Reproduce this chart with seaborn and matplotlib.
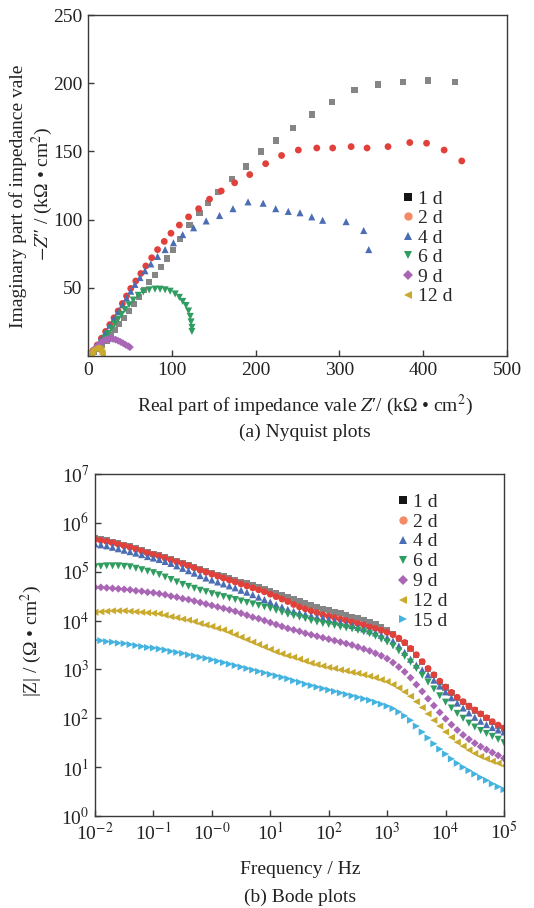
import matplotlib
matplotlib.use("Agg")
import matplotlib.pyplot as plt
from matplotlib.lines import Line2D
import seaborn as sns
import numpy as np

# ---------------- Nyquist data (kOhm cm2) ----------------
nyq_labels = ["1 d", "2 d", "4 d", "6 d", "9 d", "12 d"]

re_1d = [7, 12, 17, 22, 27, 32, 37, 43, 49, 55, 61, 67, 73, 80, 87, 94, 101, 110, 121, 133,
         143, 155, 172, 189, 206, 224, 245, 267, 291, 318, 346, 376, 406, 438]
im_1d = [3, 5, 8, 11, 15, 19, 23.5, 28, 33, 38, 43, 48.5, 54, 59.5, 65.5, 71.5, 77.5, 86, 96, 105,
         112, 120, 129.5, 139, 150, 158, 167, 177, 186, 195, 199, 201, 202, 201]

re_2d = [6, 11, 16, 21, 26, 31, 36, 41, 46, 51, 57, 63, 69, 76, 83, 91, 99, 109, 120, 132,
         145, 159, 175, 193, 212, 231, 251, 273, 292, 314, 333, 358, 384, 404, 425, 446]
im_2d = [4, 8, 13, 18, 23, 28, 33, 38.5, 44, 49.5, 55, 60.5, 66, 72, 78, 84, 90, 96, 102, 108,
         115, 121, 127, 133, 141, 147, 151, 152.5, 152.5, 153.5, 152.5, 153.5, 156.5, 156, 151, 143]

re_4d = [6, 11, 16, 21, 26, 31, 36, 41, 46, 51, 56, 62, 68, 75, 83, 92, 102, 113, 126, 141,
         157, 173, 191, 209, 224, 239, 253, 267, 280, 308, 329, 335]
im_4d = [4, 8, 12.5, 17.5, 22.5, 27.5, 32.5, 37.5, 42.5, 47.5, 52.5, 57.5, 62.5, 67.5, 73, 78, 83, 89, 94, 99,
         103, 108, 113, 112, 108, 106, 105, 102, 99.5, 98.5, 92, 78]

re_6d = [8, 12, 16, 20, 24, 28, 32, 36, 40, 44, 49, 54, 60, 66, 73, 80, 86, 92, 98, 104,
         109, 113, 117, 120, 122, 123, 124, 124]
im_6d = [3, 6, 9.5, 13, 16.5, 20, 23.5, 27, 30.5, 34, 37.5, 41, 44.5, 47, 48.5, 49, 49, 48.5, 47.5, 45.5,
         43, 40, 37, 33, 29, 25, 21, 18]

re_9d = [6, 9, 12, 15, 18, 21, 24, 27, 30, 33, 36, 39, 42, 45, 48, 50]
im_9d = [4, 6, 8, 9.5, 11, 12, 12.5, 12.7, 12.5, 12, 11.2, 10.3, 9.3, 8.2, 7.2, 6.5]

re_12d = [4, 5, 6, 8, 10, 12, 14, 15.5, 16.5, 17]
im_12d = [1, 3, 4.5, 5.5, 6, 5.8, 5, 3.8, 2.5, 1.2]

# ---------------- Bode data: log10 f (Hz) and log10 |Z| (Ohm cm2) ----------------
bode_labels = ["1 d", "2 d", "4 d", "6 d", "9 d", "12 d", "15 d"]

lg_freq = [-2.0, -1.9, -1.8, -1.7, -1.6, -1.5, -1.4, -1.3, -1.2, -1.1,
           -1.0, -0.9, -0.8, -0.7, -0.6, -0.5, -0.4, -0.3, -0.2, -0.1,
           0.0, 0.1, 0.2, 0.3, 0.4, 0.5, 0.6, 0.7, 0.8, 0.9,
           1.0, 1.1, 1.2, 1.3, 1.4, 1.5, 1.6, 1.7, 1.8, 1.9,
           2.0, 2.1, 2.2, 2.3, 2.4, 2.5, 2.6, 2.7, 2.8, 2.9,
           3.0, 3.1, 3.2, 3.3, 3.4, 3.5, 3.6, 3.7, 3.8, 3.9,
           4.0, 4.1, 4.2, 4.3, 4.4, 4.5, 4.6, 4.7, 4.8, 4.9, 5.0]

lgz_1d = [5.69, 5.67, 5.64, 5.61, 5.58, 5.55, 5.52, 5.48, 5.44, 5.40,
          5.37, 5.34, 5.30, 5.26, 5.22, 5.18, 5.14, 5.10, 5.06, 5.02,
          4.98, 4.94, 4.90, 4.87, 4.83, 4.79, 4.76, 4.72, 4.69, 4.65,
          4.61, 4.57, 4.53, 4.49, 4.44, 4.40, 4.36, 4.32, 4.28, 4.24,
          4.21, 4.18, 4.15, 4.12, 4.08, 4.05, 4.01, 3.97, 3.92, 3.87,
          3.80, 3.72, 3.63, 3.54, 3.42, 3.29, 3.15, 3.01, 2.88, 2.75,
          2.63, 2.52, 2.42, 2.33, 2.24, 2.16, 2.08, 2.01, 1.92, 1.85, 1.79]
lgz_2d = [5.66, 5.64, 5.62, 5.59, 5.56, 5.53, 5.50, 5.46, 5.42, 5.38,
          5.35, 5.32, 5.28, 5.24, 5.20, 5.16, 5.12, 5.08, 5.03, 4.99,
          4.95, 4.91, 4.87, 4.83, 4.79, 4.75, 4.71, 4.67, 4.63, 4.59,
          4.54, 4.49, 4.44, 4.39, 4.33, 4.28, 4.24, 4.20, 4.16, 4.12,
          4.09, 4.06, 4.03, 4.00, 3.97, 3.94, 3.91, 3.87, 3.84, 3.80,
          3.76, 3.71, 3.64, 3.55, 3.43, 3.30, 3.16, 3.02, 2.89, 2.76,
          2.64, 2.53, 2.43, 2.34, 2.25, 2.17, 2.09, 2.01, 1.93, 1.86, 1.80]
lgz_4d = [5.57, 5.55, 5.53, 5.50, 5.47, 5.44, 5.41, 5.38, 5.35, 5.31,
          5.28, 5.25, 5.21, 5.17, 5.12, 5.07, 5.02, 4.97, 4.92, 4.87,
          4.83, 4.79, 4.75, 4.71, 4.67, 4.62, 4.58, 4.53, 4.48, 4.43,
          4.38, 4.33, 4.28, 4.23, 4.19, 4.16, 4.13, 4.10, 4.07, 4.05,
          4.02, 3.99, 3.96, 3.93, 3.90, 3.86, 3.83, 3.79, 3.75, 3.70,
          3.65, 3.58, 3.48, 3.35, 3.21, 3.09, 2.99, 2.89, 2.78, 2.66,
          2.54, 2.42, 2.31, 2.21, 2.11, 2.02, 1.94, 1.87, 1.81, 1.76, 1.72]
lgz_6d = [5.10, 5.11, 5.12, 5.12, 5.12, 5.11, 5.10, 5.07, 5.04, 5.01,
          4.98, 4.94, 4.89, 4.84, 4.79, 4.74, 4.70, 4.66, 4.62, 4.59,
          4.55, 4.52, 4.49, 4.46, 4.43, 4.40, 4.37, 4.34, 4.31, 4.28,
          4.25, 4.21, 4.17, 4.13, 4.10, 4.07, 4.04, 4.00, 3.97, 3.94,
          3.92, 3.90, 3.87, 3.85, 3.83, 3.80, 3.77, 3.73, 3.68, 3.62,
          3.56, 3.48, 3.38, 3.27, 3.15, 3.02, 2.88, 2.74, 2.60, 2.46,
          2.33, 2.21, 2.10, 2.00, 1.90, 1.82, 1.75, 1.69, 1.63, 1.57, 1.50]
lgz_9d = [4.68, 4.68, 4.67, 4.66, 4.65, 4.64, 4.63, 4.61, 4.60, 4.58,
          4.57, 4.55, 4.53, 4.50, 4.48, 4.45, 4.43, 4.40, 4.37, 4.34,
          4.31, 4.28, 4.25, 4.22, 4.19, 4.15, 4.11, 4.07, 4.04, 4.00,
          3.96, 3.92, 3.88, 3.84, 3.81, 3.78, 3.74, 3.71, 3.68, 3.65,
          3.62, 3.59, 3.56, 3.53, 3.50, 3.46, 3.42, 3.38, 3.33, 3.28,
          3.22, 3.14, 3.05, 2.95, 2.83, 2.69, 2.55, 2.40, 2.26, 2.12,
          1.99, 1.87, 1.76, 1.66, 1.57, 1.49, 1.42, 1.36, 1.30, 1.24, 1.18]
lgz_12d = [4.17, 4.18, 4.19, 4.20, 4.20, 4.20, 4.19, 4.18, 4.17, 4.16,
           4.15, 4.14, 4.11, 4.08, 4.06, 4.03, 4.01, 3.98, 3.94, 3.91,
           3.88, 3.84, 3.81, 3.76, 3.71, 3.66, 3.61, 3.56, 3.51, 3.46,
           3.41, 3.36, 3.32, 3.28, 3.25, 3.21, 3.17, 3.13, 3.10, 3.07,
           3.04, 3.02, 2.99, 2.97, 2.94, 2.92, 2.89, 2.86, 2.83, 2.79,
           2.75, 2.69, 2.62, 2.54, 2.45, 2.34, 2.22, 2.09, 1.96, 1.84,
           1.72, 1.61, 1.51, 1.43, 1.35, 1.28, 1.22, 1.17, 1.12, 1.08, 1.03]
lgz_15d = [3.60, 3.59, 3.57, 3.56, 3.54, 3.53, 3.51, 3.49, 3.47, 3.45,
           3.44, 3.42, 3.40, 3.37, 3.35, 3.33, 3.30, 3.28, 3.25, 3.23,
           3.20, 3.17, 3.14, 3.11, 3.08, 3.05, 3.02, 2.99, 2.96, 2.93,
           2.90, 2.87, 2.84, 2.81, 2.77, 2.74, 2.70, 2.67, 2.64, 2.61,
           2.58, 2.55, 2.52, 2.49, 2.46, 2.43, 2.40, 2.37, 2.33, 2.29,
           2.25, 2.20, 2.13, 2.05, 1.96, 1.84, 1.72, 1.60, 1.48, 1.37,
           1.27, 1.17, 1.08, 1.00, 0.93, 0.86, 0.79, 0.73, 0.66, 0.60, 0.54]

x_tick_exp = [-2, -1, 0, 1, 2, 3, 4, 5]
x_tick_text = ["10$^{-2}$", "10$^{-1}$", "10$^{-0}$", "10$^{1}$", "10$^{2}$", "10$^{3}$", "10$^{4}$", "10$^{5}$"]
y_tick_exp = [0, 1, 2, 3, 4, 5, 6, 7]

# ---------------- style ----------------
markers = ["s", "o", "^", "v", "D", "<", ">"]
colors = ["#858585", "#e2403a", "#4a6db4", "#2f9d5f", "#a866b4", "#c9aa2c", "#45b3df"]
legend_colors = ["#151515", "#f48a66", "#4a6db4", "#2f9d5f", "#a866b4", "#c9aa2c", "#45b3df"]
sizes = [20, 24, 26, 26, 16, 26, 26]

sns.set_style("ticks")
plt.rcParams["font.family"] = ["Liberation Serif", "DejaVu Serif"]
plt.rcParams["mathtext.fontset"] = "stix"
FS = 14

fig = plt.figure(figsize=(5.34, 9.08), dpi=100)
W, H = 534.0, 908.0
ax1 = fig.add_axes([88 / W, 1 - 356 / H, (507 - 88) / W, (356 - 15) / H])
ax2 = fig.add_axes([95 / W, 1 - 816 / H, (504 - 95) / W, (816 - 474) / H])

# Nyquist plot
nyq_re = [re_1d, re_2d, re_4d, re_6d, re_9d, re_12d]
nyq_im = [im_1d, im_2d, im_4d, im_6d, im_9d, im_12d]
for i in range(len(nyq_labels)):
    sns.scatterplot(x=nyq_re[i], y=nyq_im[i], ax=ax1, marker=markers[i], color=colors[i],
                    s=sizes[i], edgecolor="none", linewidth=0)
ax1.set_xlim(0, 500)
ax1.set_ylim(0, 250)
ax1.set_xticks([0, 100, 200, 300, 400, 500])
ax1.set_yticks([50, 100, 150, 200, 250])

# Bode plot
bode_z = [lgz_1d, lgz_2d, lgz_4d, lgz_6d, lgz_9d, lgz_12d, lgz_15d]
freq = 10.0 ** np.array(lg_freq)
for i in range(len(bode_labels)):
    sns.scatterplot(x=freq, y=10.0 ** np.array(bode_z[i]), ax=ax2, marker=markers[i],
                    color=colors[i], s=sizes[i], edgecolor="none", linewidth=0)
ax2.set_xscale("log")
ax2.set_yscale("log")
ax2.set_xlim(1e-2, 1e5)
ax2.set_ylim(1e0, 1e7)
ax2.set_xticks([10.0 ** e for e in x_tick_exp])
ax2.set_xticklabels(x_tick_text)
ax2.set_yticks([10.0 ** e for e in y_tick_exp])
ax2.set_yticklabels(["10$^{%d}$" % e for e in y_tick_exp])
ax2.minorticks_off()

for ax in (ax1, ax2):
    ax.set_xlabel("")
    ax.set_ylabel("")
    for sp in ax.spines.values():
        sp.set_visible(True)
        sp.set_linewidth(1.0)
        sp.set_color("#3a3a3a")
    ax.tick_params(direction="in", length=4, width=1.0, color="#3a3a3a",
                   labelsize=FS, labelcolor="#222222", pad=4)
    ax.tick_params(which="minor", length=0)

# legends
def make_legend(ax, labels, x, y, spacing):
    handles = [Line2D([], [], linestyle="none", marker=markers[i], color=legend_colors[i],
                      markersize=6 if markers[i] != "D" else 5, markeredgewidth=0)
               for i in range(len(labels))]
    ax.legend(handles, labels, loc="upper left", bbox_to_anchor=(x / W, 1 - y / H),
              bbox_transform=fig.transFigure, frameon=False, fontsize=FS,
              handlelength=0.6, handletextpad=0.2, labelspacing=spacing,
              borderpad=0, borderaxespad=0)

make_legend(ax1, nyq_labels, 402, 190, 0.1)
make_legend(ax2, bode_labels, 397, 493, 0.12)

# axis titles and captions
txt = dict(fontsize=FS, color="#222222")
fig.text(18 / W, 1 - 196 / H, "Imaginary part of impedance vale", rotation=90,
         ha="center", va="center", **txt)
fig.text(42 / W, 1 - 194 / H, "$-Z$\u2033 / (k\u03a9 \u2022 cm$^2$)", rotation=90,
         ha="center", va="center", **txt)
fig.text(305 / W, 1 - 405 / H, "Real part of impedance vale $Z$\u2032/ (k\u03a9 \u2022 cm$^2$)",
         ha="center", va="center", **txt)
fig.text(305 / W, 1 - 432 / H, "(a) Nyquist plots", ha="center", va="center", **txt)

fig.text(31 / W, 1 - 641 / H, "|Z| / (\u03a9 \u2022 cm$^2$)", rotation=90,
         ha="center", va="center", **txt)
fig.text(300 / W, 1 - 870 / H, "Frequency / Hz", ha="center", va="center", **txt)
fig.text(300 / W, 1 - 897 / H, "(b) Bode plots", ha="center", va="center", **txt)

fig.savefig("out.png", dpi=100)
